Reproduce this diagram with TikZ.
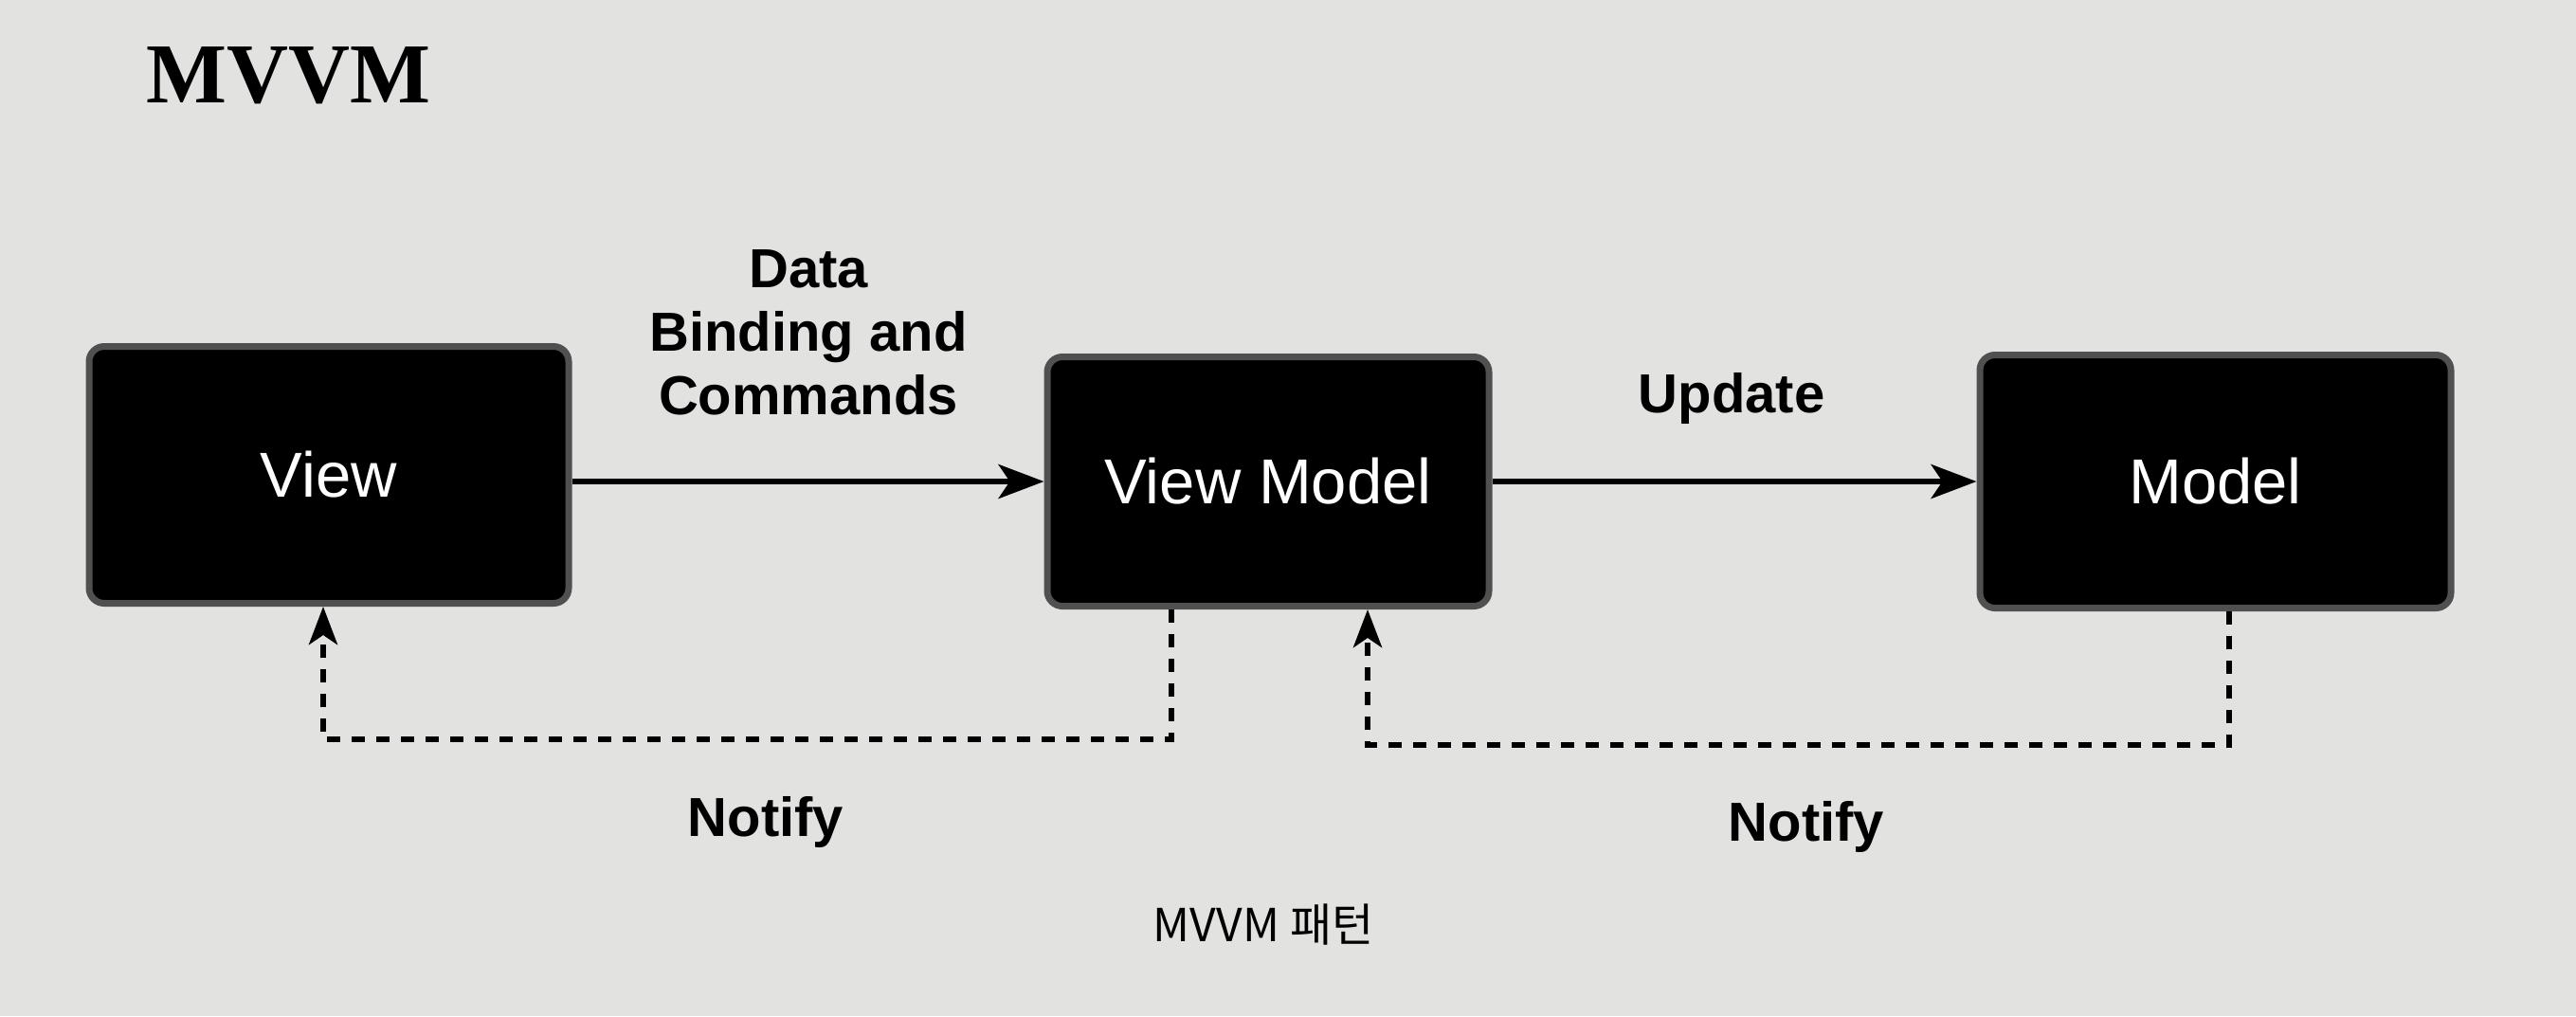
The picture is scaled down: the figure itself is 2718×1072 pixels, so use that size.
\documentclass[tikz,border=0pt]{standalone}
\usepackage{fontspec}
\setmainfont{Liberation Sans}
\newfontfamily\titlefont{Liberation Serif}
\newfontfamily\krfont{Noto Sans CJK KR}
\usetikzlibrary{arrows.meta}
\definecolor{paper}{RGB}{226,226,224}
\definecolor{rim}{RGB}{80,80,80}
\tikzset{
  box/.style={draw=rim, line width=1.75pt, fill=black, rounded corners=4pt, text=white,
    font=\fontsize{16.75pt}{20pt}\selectfont, inner sep=0pt},
  lbl/.style={font=\fontsize{14.5pt}{16.75pt}\selectfont\bfseries, inner sep=0pt, text=black},
  arr/.style={line width=1.5pt, -{Stealth[length=12pt,width=9pt,inset=3pt]}},
  dsh/.style={line width=1.5pt, dash pattern=on 3.5pt off 3pt, -{Stealth[length=10pt,width=7.5pt,inset=2.5pt]}}
}
\begin{document}
\begin{tikzpicture}[x=0.25pt,y=-0.25pt]
\fill[paper] (0,0) rectangle (2718,1072);
\useasboundingbox (0,0) rectangle (2718,1072);
% title
\node[anchor=base west, inner sep=0pt, font=\titlefont\fontsize{22.5pt}{26pt}\selectfont\bfseries] (title) at (154,108) {MVVM};
% boxes
\node[box, minimum width=126.5pt, minimum height=67.75pt] (view) at (347,501) {View};
\node[box, minimum width=116.5pt, minimum height=65.75pt] (vm) at (1338,508) {View Model};
\node[box, minimum width=124.25pt, minimum height=66.75pt] (model) at (2337.5,508) {Model};
% solid arrows
\draw[arr] (view.east |- vm.west) -- (vm.west);
\draw[arr] (vm.east) -- (model.west);
% labels
\node[lbl, align=center, anchor=north] (dbc) at (853,263) {Data\\Binding and\\Commands};
\node[lbl, anchor=base] (upd) at (1827,435) {Update};
\node[lbl, anchor=base] (n1) at (808,882) {Notify};
\node[lbl, anchor=base] (n2) at (1906,887) {Notify};
% dashed notify paths
\coordinate (c1) at (1236,780);
\coordinate (c2) at (341,780);
\coordinate (c3) at (2352,786);
\coordinate (c4) at (1443,786);
\draw[dsh] (vm.south -| c1) -- (c1) -- (c2) -- (view.south -| c2);
\draw[dsh] (model.south -| c3) -- (c3) -- (c4) -- (vm.south -| c4);
% caption
\node[anchor=base, inner sep=0pt, font=\krfont\fontsize{12pt}{14pt}\selectfont] (cap) at (1333,993) {MVVM 패턴};
\end{tikzpicture}
\end{document}
